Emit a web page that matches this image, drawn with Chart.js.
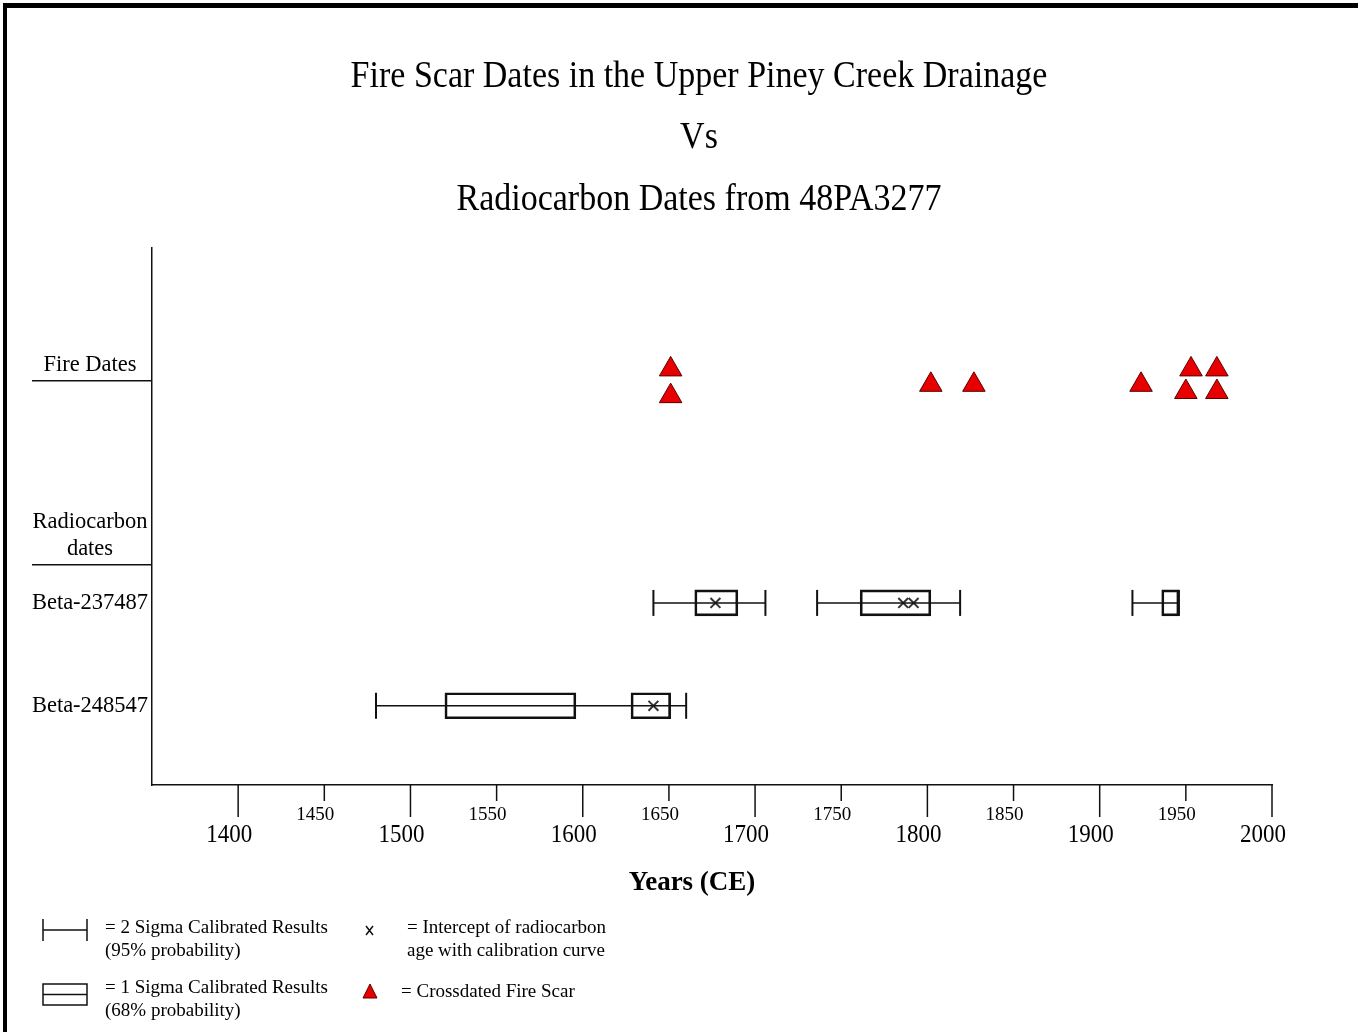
<!DOCTYPE html>
<html lang="en">
<head>
<meta charset="UTF-8">
<title>Fire Scar Dates vs Radiocarbon Dates</title>
<script src="https://cdn.jsdelivr.net/npm/chart.js"></script>
<style>
  body { margin: 0; background: #fff; }
  #wrap { position: relative; width: 1358px; height: 1032px; overflow: hidden; }
  /* heavy frame on the top and left edges */
  #frame { position: absolute; left: 3px; top: 3px; right: -10px; bottom: -10px;
           border-top: 5px solid #000; border-left: 4px solid #000; pointer-events: none; }
</style>
</head>
<body>
<div id="wrap">
  <canvas id="fireChart" width="1358" height="1032"></canvas>
  <div id="frame"></div>
</div>
<script>
const titleLines = ['Fire Scar Dates in the Upper Piney Creek Drainage', 'Vs', 'Radiocarbon Dates from 48PA3277'];
const axisTitle = 'Years (CE)';

// x axis ticks (years)
const xTicks = [1400, 1450, 1500, 1550, 1600, 1650, 1700, 1750, 1800, 1850, 1900, 1950, 2000];

// rows on the vertical axis
const rowNames = ['Beta-248547', 'Beta-237487'];
const rowPos = [1, 2];
const groupNames = ['Fire Dates', 'Radiocarbon\ndates'];
const groupLinePos = [4.16, 2.37];

// crossdated fire scars (two stacked tiers where dates coincide)
const fireYears = [1651, 1651, 1802, 1827, 1924, 1953, 1950, 1968, 1968];
const fireTier = [4.27, 4.01, 4.12, 4.12, 4.12, 4.27, 4.05, 4.27, 4.05];

// 2 sigma calibrated ranges
const sigma2Row = [2, 2, 2, 1];
const sigma2From = [1641, 1736, 1919, 1480];
const sigma2To = [1706, 1819, 1946, 1660];

// 1 sigma calibrated ranges
const sigma1Row = [2, 2, 2, 1, 1];
const sigma1From = [1665, 1761, 1936, 1520, 1628];
const sigma1To = [1690, 1802, 1946, 1596, 1651];

// intercepts of radiocarbon age with calibration curve
const interceptRow = [2, 2, 2, 1];
const interceptYears = [1677, 1786, 1792, 1641];

const serif = '"Liberation Serif", "Times New Roman", serif';
const ink = '#111';

const datasets = [];

// 2 sigma whiskers, one line per range
sigma2From.forEach((from, i) => {
  datasets.push({
    type: 'line',
    data: [{ x: from, y: sigma2Row[i] }, { x: sigma2To[i], y: sigma2Row[i] }],
    borderColor: ink,
    borderWidth: 1.5,
    pointStyle: 'line',
    rotation: 90,
    pointRadius: 13,
    pointBorderWidth: 2,
    pointBorderColor: ink
  });
});

// 1 sigma boxes as floating bars
datasets.push({
  type: 'bar',
  indexAxis: 'y',
  data: sigma1From.map((from, i) => ({ x: [from, sigma1To[i]], y: sigma1Row[i] })),
  backgroundColor: 'rgba(0,0,0,0)',
  borderColor: ink,
  borderWidth: 2,
  borderSkipped: false,
  barThickness: 26,
  grouped: false
});

// intercepts
datasets.push({
  type: 'scatter',
  data: interceptYears.map((v, i) => ({ x: v, y: interceptRow[i] })),
  pointStyle: 'crossRot',
  pointRadius: 7,
  borderColor: '#333',
  borderWidth: 2
});

// fire scars
datasets.push({
  type: 'scatter',
  data: fireYears.map((v, i) => ({ x: v, y: fireTier[i] })),
  pointStyle: 'triangle',
  pointRadius: 13,
  backgroundColor: '#e80000',
  borderColor: '#5a0000',
  borderWidth: 1
});

// text drawn slightly taller than the font, like the original
function tallText(ctx, text, x, y, sy) {
  ctx.save();
  ctx.translate(x, y);
  ctx.scale(1, sy);
  ctx.fillText(text, 0, 0);
  ctx.restore();
}

// title, row labels, tick labels and key are drawn on top of the chart
const pageText = {
  id: 'pageText',
  afterDraw(chart) {
    const ctx = chart.ctx;
    const xs = chart.scales.x;
    const ys = chart.scales.y;
    const axisY = chart.chartArea.bottom;
    ctx.save();
    ctx.fillStyle = '#000';
    ctx.strokeStyle = ink;
    ctx.textAlign = 'center';
    ctx.textBaseline = 'middle';

    // title
    ctx.font = '34px ' + serif;
    titleLines.forEach((t, i) => tallText(ctx, t, 699, 77 + i * 61.5, 1.1));

    // x ticks, the hundreds longer and lower
    xTicks.forEach(v => {
      const px = xs.getPixelForValue(v);
      const major = v % 100 === 0;
      ctx.lineWidth = 1.5;
      ctx.beginPath();
      ctx.moveTo(px, axisY);
      ctx.lineTo(px, axisY + (major ? 32 : 16));
      ctx.stroke();
      ctx.font = (major ? 23 : 19) + 'px ' + serif;
      tallText(ctx, String(v), px - 9, axisY + (major ? 50 : 30), major ? 1.12 : 1);
    });

    // axis title
    ctx.font = 'bold 27px ' + serif;
    ctx.fillText(axisTitle, 692, 883);

    // group labels with their underline
    ctx.font = '22.5px ' + serif;
    ctx.lineWidth = 1.5;
    groupNames.forEach((name, i) => {
      const py = ys.getPixelForValue(groupLinePos[i]);
      ctx.beginPath();
      ctx.moveTo(32, py);
      ctx.lineTo(xs.left, py);
      ctx.stroke();
      const lines = name.split('\n');
      lines.forEach((l, j) => ctx.fillText(l, 90, py - 16 - (lines.length - 1 - j) * 27));
    });
    rowNames.forEach((name, i) => ctx.fillText(name, 90, ys.getPixelForValue(rowPos[i])));

    // key
    ctx.lineWidth = 1.5;
    ctx.beginPath();
    ctx.moveTo(43, 930); ctx.lineTo(87, 930);
    ctx.moveTo(43, 919); ctx.lineTo(43, 941);
    ctx.moveTo(87, 919); ctx.lineTo(87, 941);
    ctx.stroke();
    ctx.strokeRect(43, 984, 44, 21);
    ctx.beginPath();
    ctx.moveTo(43, 994.5); ctx.lineTo(87, 994.5);
    ctx.stroke();

    ctx.beginPath();
    ctx.moveTo(366, 926); ctx.lineTo(373, 935);
    ctx.moveTo(373, 926); ctx.lineTo(366, 935);
    ctx.stroke();

    ctx.fillStyle = '#e80000';
    ctx.strokeStyle = '#5a0000';
    ctx.lineWidth = 1;
    ctx.beginPath();
    ctx.moveTo(370, 984); ctx.lineTo(377, 998); ctx.lineTo(363, 998);
    ctx.closePath();
    ctx.fill();
    ctx.stroke();

    ctx.fillStyle = '#000';
    ctx.textAlign = 'left';
    ctx.font = '19px ' + serif;
    ctx.fillText('= 2 Sigma Calibrated Results', 105, 928);
    ctx.fillText('(95% probability)', 105, 951);
    ctx.fillText('= 1 Sigma Calibrated Results', 105, 988);
    ctx.fillText('(68% probability)', 105, 1011);
    ctx.fillText('= Intercept of radiocarbon', 407, 928);
    ctx.fillText('age with calibration curve', 407, 951);
    ctx.fillText('= Crossdated Fire Scar', 401, 992);
    ctx.restore();
  }
};

const hiddenAxis = {
  type: 'linear',
  offset: false,
  beginAtZero: false,
  grid: { display: false, drawTicks: false, offset: false },
  ticks: { display: false },
  border: { display: true, color: ink, width: 1.5 }
};

new Chart(document.getElementById('fireChart').getContext('2d'), {
  type: 'scatter',
  data: { datasets },
  options: {
    responsive: false,
    animation: false,
    layout: { padding: { left: 152, right: 86, top: 248, bottom: 247 } },
    scales: {
      x: Object.assign({}, hiddenAxis, { min: 1350, max: 2000 }),
      y: Object.assign({}, hiddenAxis, { min: 0.23, max: 5.45 })
    },
    plugins: {
      legend: { display: false },
      tooltip: { enabled: false },
      title: { display: false }
    }
  },
  plugins: [pageText]
});
</script>
</body>
</html>
